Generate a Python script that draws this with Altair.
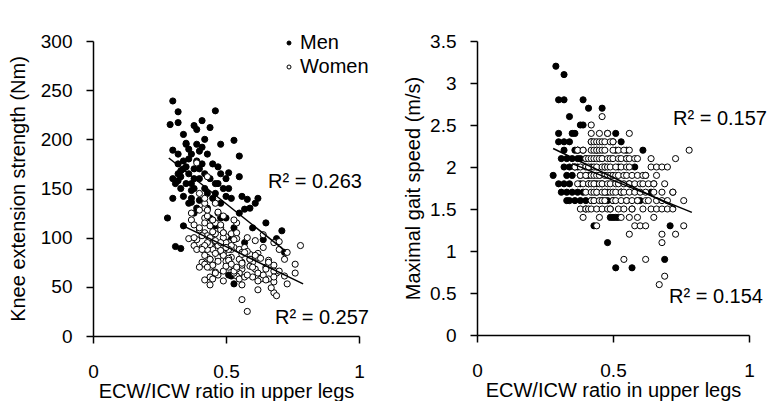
import altair as alt
import pandas as pd

FONT = "Liberation Sans"

# ---------------- data ----------------
men_ratio = [0.29, 0.32, 0.30, 0.32, 0.39, 0.41, 0.46, 0.34, 0.38, 0.39,
             0.30, 0.35, 0.36, 0.48, 0.51, 0.53, 0.30, 0.32, 0.34, 0.50,
             0.32, 0.36, 0.37, 0.44, 0.51, 0.55, 0.61, 0.31, 0.33, 0.37,
             0.38, 0.40, 0.46, 0.55, 0.34, 0.37, 0.52, 0.28, 0.33, 0.38,
             0.41, 0.30, 0.32, 0.41, 0.46, 0.65, 0.31, 0.33, 0.35, 0.37,
             0.39, 0.48, 0.72, 0.33, 0.34, 0.36, 0.38, 0.40, 0.42, 0.48,
             0.55, 0.59, 0.40, 0.49, 0.50, 0.51, 0.52, 0.43, 0.71, 0.48,
             0.69, 0.51, 0.57, 0.35, 0.36, 0.39, 0.40, 0.42, 0.43, 0.44,
             0.45, 0.45, 0.47, 0.43, 0.38, 0.35, 0.32, 0.42, 0.47, 0.50,
             0.53, 0.56, 0.58, 0.62, 0.57, 0.60, 0.64, 0.34, 0.37, 0.44,
             0.49, 0.53, 0.46]
men_knee = [215, 228, 239, 217, 210, 219, 229, 205, 214, 195,
            189, 196, 190, 195, 166, 199, 160, 175, 170, 160,
            165, 180, 155, 212, 150, 183, 135, 155, 150, 185,
            170, 160, 145, 162, 178, 140, 140, 120, 168, 150,
            192, 140, 158, 175, 155, 115, 91, 162, 172, 148,
            130, 120, 85, 89, 142, 135, 160, 138, 165, 135,
            125, 130, 188, 150, 142, 100, 61, 145, 107, 165,
            99, 62, 129, 195, 165, 178, 170, 150, 185, 160,
            175, 140, 172, 130, 125, 155, 185, 200, 155, 120,
            110, 142, 139, 140, 95, 110, 98, 112, 136, 120,
            105, 53, 112]
men_gait = [3.2, 3.1, 2.8, 2.8, 2.8, 2.7, 2.7, 2.6, 2.5, 2.5,
            2.4, 2.4, 2.4, 2.4, 2.4, 2.3, 2.3, 2.3, 2.3, 2.3,
            2.2, 2.2, 2.2, 2.2, 2.2, 2.2, 2.2, 2.1, 2.1, 2.1,
            2.1, 2.1, 2.1, 2.1, 2.0, 2.0, 2.0, 1.9, 1.9, 1.9,
            1.9, 1.8, 1.8, 1.8, 1.8, 1.8, 1.7, 1.7, 1.7, 1.7,
            1.7, 1.7, 1.7, 1.6, 1.6, 1.6, 1.6, 1.6, 1.6, 1.6,
            1.6, 1.6, 1.5, 1.4, 1.4, 1.4, 1.4, 1.3, 1.3, 1.1,
            0.9, 0.8, 0.8, 2.1, 2.0, 2.2, 1.9, 2.0, 1.8, 1.7,
            2.1, 1.9, 2.0, 1.6, 1.8, 1.9, 2.0, 2.3, 1.7, 1.6,
            1.7, 1.8, 2.0, 1.9, 1.5, 1.6, 1.7, 1.8, 2.2, 1.8,
            1.5, 1.7, 1.6]

women_ratio = [0.46, 0.42,
               0.42, 0.45, 0.48, 0.56,
               0.42, 0.43, 0.44, 0.45, 0.46, 0.47, 0.49, 0.50,
               0.37, 0.39, 0.42, 0.43, 0.44, 0.45, 0.46, 0.47, 0.50, 0.52, 0.54, 0.56, 0.78,
               0.40, 0.41, 0.42, 0.43, 0.44, 0.45, 0.46, 0.48, 0.49, 0.50, 0.52, 0.53, 0.55, 0.56, 0.58, 0.59, 0.64, 0.73,
               0.36, 0.38, 0.40, 0.41, 0.43, 0.44, 0.46, 0.47, 0.48, 0.49, 0.51, 0.53, 0.55, 0.56, 0.64, 0.66, 0.68, 0.70,
               0.38, 0.40, 0.42, 0.43, 0.44, 0.45, 0.47, 0.48, 0.49, 0.50, 0.51, 0.52, 0.54, 0.55, 0.57, 0.59, 0.61, 0.62, 0.66,
               0.37, 0.39, 0.41, 0.42, 0.43, 0.45, 0.46, 0.48, 0.49, 0.51, 0.52, 0.54, 0.56, 0.58, 0.60, 0.61, 0.63, 0.65, 0.69,
               0.40, 0.42, 0.43, 0.44, 0.46, 0.47, 0.49, 0.50, 0.51, 0.53, 0.54, 0.56, 0.58, 0.60, 0.62, 0.65, 0.68, 0.72,
               0.42, 0.43, 0.45, 0.46, 0.47, 0.50, 0.51, 0.53, 0.55, 0.57, 0.59, 0.62, 0.63, 0.66, 0.68, 0.70, 0.76,
               0.38, 0.40, 0.41, 0.42, 0.44, 0.46, 0.48, 0.49, 0.52, 0.54, 0.57, 0.61, 0.64, 0.66, 0.68, 0.70, 0.72,
               0.39, 0.45, 0.53, 0.56, 0.59, 0.65,
               0.44, 0.58, 0.60, 0.62, 0.76,
               0.56, 0.68, 0.73,
               0.68,
               0.54, 0.62,
               0.69,
               0.67]
women_knee = [95, 120,
              130, 88, 110, 75,
              105, 162, 78, 118, 96, 125, 84, 101,
              118, 98, 135, 88, 112, 72, 104, 126, 92, 80, 115, 68, 92,
              108, 90, 140, 122, 70, 98, 115, 86, 122, 76, 104, 90, 88, 72, 100, 83, 90, 85,
              99, 113, 128, 75, 102, 93, 135, 80, 108, 66, 95, 118, 78, 85, 103, 72, 95, 96,
              92, 145, 115, 80, 100, 72, 92, 113, 82, 95, 70, 88, 105, 64, 90, 78, 68, 84, 77,
              125, 88, 102, 73, 95, 118, 65, 87, 100, 79, 92, 61, 83, 25, 75, 97, 58, 70, 64,
              110, 82, 128, 60, 97, 76, 105, 71, 88, 64, 99, 74, 86, 60, 80, 68, 72, 78,
              92, 70, 106, 84, 62, 90, 77, 98, 58, 85, 71, 64, 79, 58, 66, 88, 73,
              100, 70, 88, 57, 78, 64, 95, 56, 73, 68, 60, 82, 62, 75, 55, 66, 61,
              176, 58, 66, 52, 78, 57,
              52, 62, 70, 56, 64,
              37, 60, 53,
              44,
              70, 47,
              41,
              49]
women_gait = ([2.6, 2.5] + [2.4] * 4 + [2.3] * 8 + [2.2] * 13 + [2.1] * 18
              + [2.0] * 18 + [1.9] * 19 + [1.8] * 19 + [1.7] * 18 + [1.6] * 17
              + [1.5] * 17 + [1.4] * 6 + [1.3] * 5 + [1.2] * 3 + [1.1]
              + [0.9] * 2 + [0.7] + [0.6])

groups = ["Men", "Women"]
fit_group = ["Men", "Men", "Women", "Women"]
knee_fit_ratio = [0.285, 0.725, 0.347, 0.79]
knee_fit_value = [181, 86, 111, 53]
gait_fit_ratio = [0.28, 0.73, 0.35, 0.79]
gait_fit_value = [2.22, 1.52, 2.04, 1.46]

knee_r2 = ["R² = 0.263", "R² = 0.257"]
gait_r2 = ["R² = 0.157", "R² = 0.154"]

x_title = "ECW/ICW ratio in upper legs"
knee_title = "Knee extension strength (Nm)"
gait_title = "Maximal gait speed (m/s)"
x_ticks = [0, 0.5, 1]
knee_ticks = [0, 50, 100, 150, 200, 250, 300]
gait_ticks = [0, 0.5, 1, 1.5, 2, 2.5, 3, 3.5]


def axis(title, values, fmt, title_pad, label_pad):
    return alt.Axis(
        title=title, values=values, format=fmt, grid=False,
        tickSize=7, tickWidth=1.5, tickColor="black",
        domainColor="black", domainWidth=1.5,
        labelFont=FONT, labelFontSize=19, labelColor="black",
        labelPadding=label_pad, labelFlush=False,
        titleFont=FONT, titleFontSize=20, titleColor="black",
        titleFontWeight="normal", titlePadding=title_pad,
    )


def panel(ratio_m, val_m, ratio_w, val_w, fit_x, fit_y, ytitle, ydomain, yticks, yfmt,
          width, height, r2_labels, r2_pos, show_legend, ytitle_pad):
    pts = pd.DataFrame({
        "ratio": ratio_m + ratio_w,
        "value": val_m + val_w,
        "sex": ["Men"] * len(ratio_m) + ["Women"] * len(ratio_w),
    })
    fits = pd.DataFrame({"ratio": fit_x, "value": fit_y, "sex": fit_group})
    xenc = alt.X("ratio:Q", scale=alt.Scale(domain=[0, 1], nice=False),
                 axis=axis(x_title, x_ticks, ".1~f", 0, 19))
    yenc = alt.Y("value:Q", scale=alt.Scale(domain=ydomain, nice=False),
                 axis=axis(ytitle, yticks, yfmt, ytitle_pad, 14))
    fill_scale = alt.Scale(domain=groups, range=["black", "white"])
    if show_legend:
        fill = alt.Fill("sex:N", scale=fill_scale, legend=alt.Legend(
            title=None, orient="none", legendX=186, legendY=-8,
            labelFont=FONT, labelFontSize=20, labelColor="black",
            symbolType="circle", symbolSize=16, symbolStrokeColor="black",
            symbolStrokeWidth=1, labelOffset=1, rowPadding=4, padding=0))
    else:
        fill = alt.Fill("sex:N", scale=fill_scale, legend=None)

    points = alt.Chart(pts).mark_point(
        shape="circle", filled=True, size=38, stroke="black",
        strokeWidth=1, opacity=1, fillOpacity=1
    ).encode(x=xenc, y=yenc, fill=fill)

    lines = alt.Chart(fits).mark_line(color="black", strokeWidth=1.5).encode(
        x="ratio:Q", y="value:Q", detail="sex:N")

    layers = [points, lines]
    for lab, (px, py) in zip(r2_labels, r2_pos):
        t = alt.Chart(pd.DataFrame({"label": [lab]})).mark_text(
            align="left", baseline="middle", font=FONT, fontSize=20, color="black"
        ).encode(x=alt.value(px), y=alt.value(py), text="label:N")
        layers.append(t)
    return alt.layer(*layers).properties(width=width, height=height)


left = panel(men_ratio, men_knee, women_ratio, women_knee,
             knee_fit_ratio, knee_fit_value, knee_title, [0, 300], knee_ticks, "d",
             266, 295, knee_r2, [(175, 141), (182, 277)], True, 12)
right = panel(men_ratio, men_gait, women_ratio, women_gait,
              gait_fit_ratio, gait_fit_value, gait_title, [0, 3.5], gait_ticks, ".1~f",
              272, 294, gait_r2, [(196, 78), (192, 256)], False, 6)

chart = alt.hconcat(left, right, spacing=118, bounds="flush").resolve_scale(
    fill="independent"
).properties(
    padding={"left": 0, "top": 24, "right": 0, "bottom": 0}
).configure_view(strokeWidth=0)

chart.save("out.html", embed_options={"renderer": "svg", "actions": False})
